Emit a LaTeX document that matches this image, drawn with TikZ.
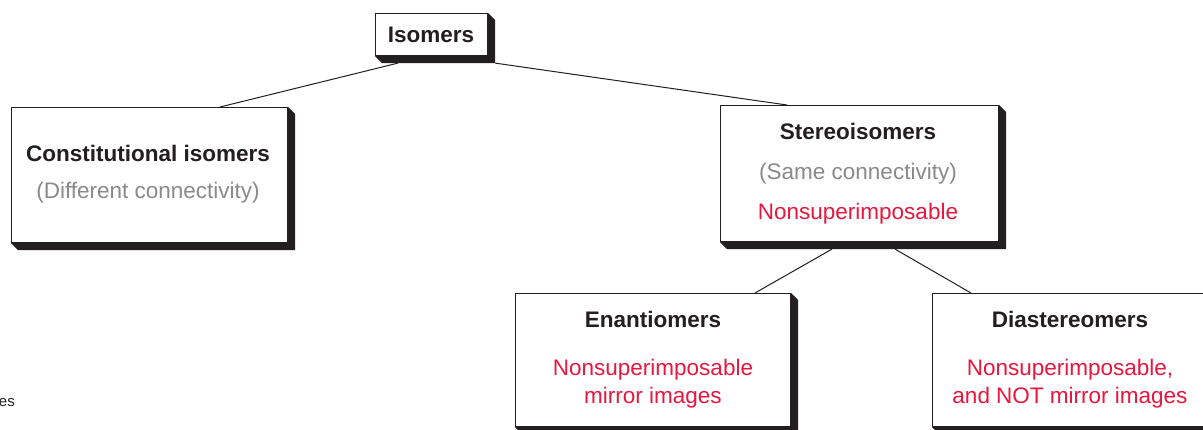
\documentclass[tikz,border=0pt]{standalone}
\usepackage{fontspec}
\setmainfont{Liberation Sans}
\usetikzlibrary{calc}
\definecolor{ired}{HTML}{E8173F}
\definecolor{igray}{HTML}{8A8A8A}
\definecolor{iblack}{HTML}{231F20}
\begin{document}
\begin{tikzpicture}[x=1pt,y=-1pt,
  box/.style={draw=iblack, fill=white, line width=1.1pt, inner sep=0pt, anchor=north west},
  ttl/.style={font=\fontsize{22.5}{27}\selectfont\bfseries, text=iblack, inner sep=0pt},
  gry/.style={font=\fontsize{22.5}{27}\selectfont, text=igray, inner sep=0pt},
  red/.style={font=\fontsize{22.5}{27}\selectfont, text=ired, inner sep=0pt, align=center},
  link/.style={draw=iblack, line width=1pt}]
\useasboundingbox (0,0) rectangle (1203,429);
\clip (0,0) rectangle (1203,429);
\fill[white] (0,0) rectangle (1203,429);
% boxes
\node[box, minimum width=112, minimum height=42] (iso) at (375,13) {};
\node[box, minimum width=276, minimum height=135] (cons) at (11,107) {};
\node[box, minimum width=278, minimum height=136] (stereo) at (720,105) {};
\node[box, minimum width=275, minimum height=133] (enan) at (515,293) {};
\node[box, minimum width=278, minimum height=133] (dia) at (932,293) {};
% shadows
\foreach \n in {iso,cons,stereo,enan,dia}{
  \fill[iblack] (\n.north east) -- ++(7,7) -- ($(\n.south east)+(7,7)$)
     -- ($(\n.south west)+(7,7)$) -- (\n.south west) -- (\n.south east) -- cycle;
}
% texts
\node[ttl] (tiso) at (431,35) {Isomers};
\node[ttl] (tcons) at (148,153) {Constitutional isomers};
\node[gry] (gcons) at (148,193) {(Different connectivity)};
\node[ttl] (tstereo) at (858,131) {Stereoisomers};
\node[gry] (gstereo) at (858,174) {(Same connectivity)};
\node[red] (rstereo) at (858,214) {Nonsuperimposable};
\node[ttl] (tenan) at (653,319) {Enantiomers};
\node[red] (renan) at (653,384) {Nonsuperimposable\\[1pt]mirror images};
\node[ttl] (tdia) at (1070,319) {Diastereomers};
\node[red] (rdia) at (1070,384) {Nonsuperimposable,\\[1pt]and NOT mirror images};
\node[font=\fontsize{15}{18}\selectfont, text=iblack, inner sep=0pt, anchor=east] (es) at (15,403) {es};
% connectors
\path[link] ($(iso.south west)+(23,7)$) -- ($(cons.north west)+(209,0)$);
\path[link] ($(iso.south east)+(7,7)$) -- ($(stereo.north west)+(67,0)$);
\path[link] ($(stereo.south west)+(112,7)$) -- ($(enan.north west)+(240,0)$);
\path[link] ($(stereo.south west)+(175,7)$) -- ($(dia.north west)+(39,0)$);
\end{tikzpicture}
\end{document}
